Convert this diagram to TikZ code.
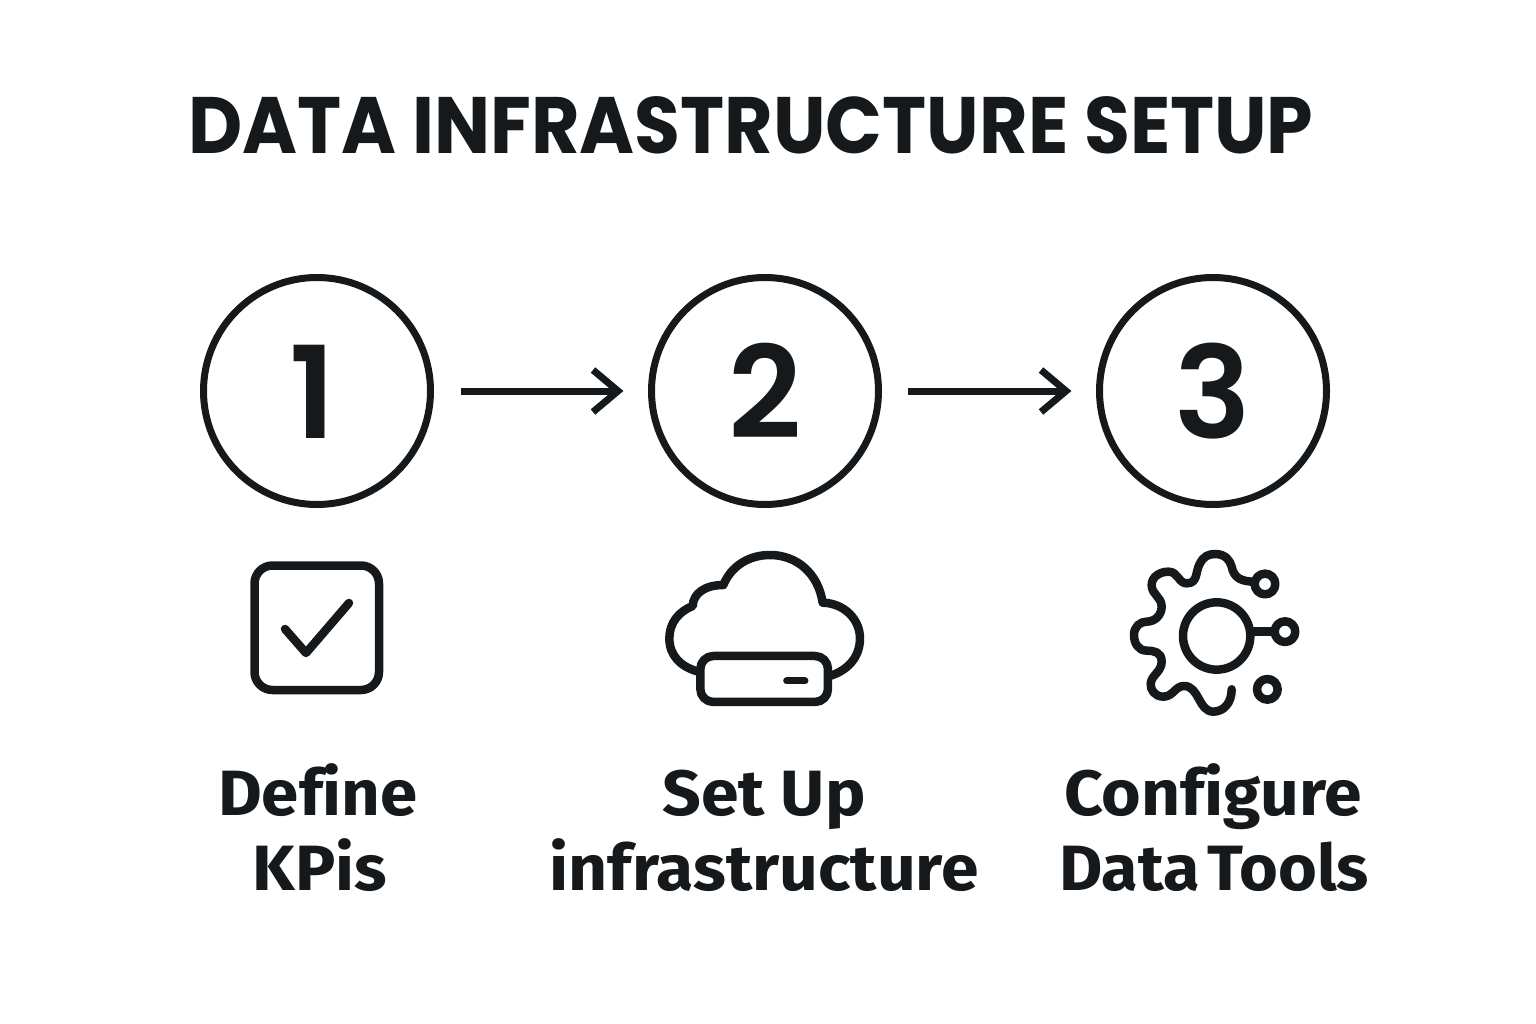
\documentclass[tikz,border=0pt]{standalone}
\usepackage{fontspec}
\setmainfont{Fira Sans}[Ligatures=NoCommon]
\newfontfamily\titlefont{Poppins SemiBold}
\newfontfamily\headfont{Poppins}
\definecolor{ink}{HTML}{15191C}
\newcommand{\wide}[2]{\scalebox{#1}[1]{#2}}
\tikzset{
  x=1pt,y=-1pt,
  ring/.style={circle,draw=ink,line width=7pt,minimum size=227pt,inner sep=0pt},
  numeral/.style={text=ink,font=\titlefont\fontsize{128}{128}\selectfont,anchor=base,inner sep=0pt},
  flow/.style={draw=ink,line width=7pt},
  icon/.style={draw=ink,line width=8.5pt,line cap=round,line join=round},
  caption/.style={text=ink,font=\fontsize{64}{64}\selectfont\bfseries,anchor=base,inner sep=0pt},
  heading/.style={text=ink,font=\headfont\fontsize{80}{80}\selectfont\bfseries,anchor=base,inner sep=0pt},
}
\begin{document}
\begin{tikzpicture}
\useasboundingbox (0,0) rectangle (1536,1024);
\node[heading] (title) at (751,154) {\wide{0.932}{DATA INFRASTRUCTURE SETUP}};
\node[ring] (c1) at (317,391) {};
\node[ring] (c2) at (765,391) {};
\node[ring] (c3) at (1213,391) {};
\node[numeral] (n1) at (313,438) {1};
\node[numeral] (n2) at (765,438) {2};
\node[numeral] (n3) at (1213,438) {3};
\coordinate (a1s) at (461,391); \coordinate (a1e) at (618,391);
\coordinate (a2s) at (908,391); \coordinate (a2e) at (1066,391);
\draw[flow] (a1s) -- (a1e);
\draw[flow,line join=miter] ([shift={(-25,-21)}]a1e) -- (a1e) -- ([shift={(-25,21)}]a1e);
\draw[flow] (a2s) -- (a2e);
\draw[flow,line join=miter] ([shift={(-25,-21)}]a2e) -- (a2e) -- ([shift={(-25,21)}]a2e);
% check box
\draw[icon,rounded corners=18pt] (254.5,565.5) rectangle (379,690);
\draw[icon] (285,629) -- (306,653) -- (349,603);
% cloud
\begin{scope}[shift={(640,530)},scale=0.3333]
\draw[icon] (175,425) .. controls (120,410) and (88,375) .. (88,325)
  .. controls (88,280) and (115,245) .. (158,228)
  .. controls (160,190) and (195,165) .. (250,165)
  .. controls (275,105) and (330,75) .. (390,75)
  .. controls (470,75) and (535,130) .. (548,218)
  .. controls (615,220) and (660,270) .. (660,325)
  .. controls (660,380) and (625,420) .. (572,437);
\draw[icon,rounded corners=13pt,fill=white] (181,378) rectangle (564,516);
\draw[icon,line width=7pt] (440,453) -- (495,453);
\end{scope}
% gear
\begin{scope}[shift={(1110,530)},scale=0.3333]
\draw[icon] (365,478) .. controls (365,520) and (340,545) .. (310,545)
  .. controls (265,545) and (268,468) .. (222,468)
  .. controls (195,468) and (190,500) .. (160,500)
  .. controls (135,500) and (120,480) .. (122,460)
  .. controls (125,435) and (155,425) .. (155,395)
  .. controls (155,365) and (130,362) .. (110,362)
  .. controls (85,362) and (72,340) .. (72,315)
  .. controls (72,290) and (90,275) .. (110,275)
  .. controls (135,275) and (155,255) .. (155,230)
  .. controls (155,200) and (125,195) .. (125,165)
  .. controls (125,140) and (150,125) .. (175,125)
  .. controls (205,125) and (205,160) .. (230,160)
  .. controls (265,160) and (255,125) .. (270,100)
  .. controls (280,80) and (295,72) .. (315,72)
  .. controls (345,72) and (360,90) .. (365,110)
  .. controls (372,145) and (395,155) .. (435,155);
\draw[icon] (320,318) circle (101);
\draw[icon,line cap=butt] (425,305) -- (494,305);
\draw[icon,fill=white] (465,162) circle (31);
\draw[icon,fill=white] (525,305) circle (31);
\draw[icon] (472,478) circle (31);
\end{scope}
\node[caption] (d1) at (318,815) {\wide{1.05}{Define}};
\node[caption] (d2) at (320,890) {\wide{1.05}{KPis}};
\node[caption] (s1) at (764,815) {\wide{1.06}{Set Up}};
\node[caption] (s2) at (764,890) {\wide{1.06}{infrastructure}};
\node[caption] (g1) at (1213,815) {\wide{1.06}{Configure}};
\node[caption] (g2) at (1214,890) {\wide{1.04}{Data\hspace{-8pt} Tools}};
\end{tikzpicture}
\end{document}
